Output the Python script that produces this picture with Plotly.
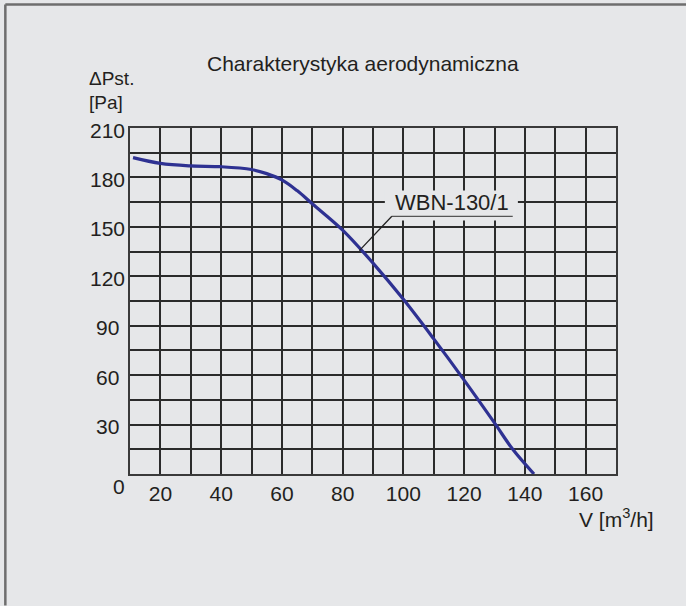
import plotly.graph_objects as go

# data
flow = [11, 20, 30, 40, 50, 55, 60, 65, 70, 80, 90, 100, 110, 120, 130, 136, 143]
pressure = [192, 188.5, 187, 186.5, 184.8, 182.3, 178.5, 172, 164, 148, 128, 106, 82, 57, 31, 15, 0]
x_ticks = [20, 40, 60, 80, 100, 120, 140, 160]
x_minor = [10, 30, 50, 70, 90, 110, 130, 150, 170]
y_ticks = [30, 60, 90, 120, 150, 180, 210]
series_name = "WBN-130/1"

BG = "#E6E7E9"
GRID = "#2b2b2b"
TXT = "#231F20"
FONT = "Liberation Sans, Arial, sans-serif"

fig = go.Figure()
fig.add_trace(go.Scatter(
    x=flow, y=pressure, mode="lines",
    line=dict(color="#2E3192", width=3.2, shape="spline", smoothing=1.0),
    showlegend=False, hoverinfo="skip"))

fig.update_layout(
    width=686, height=606,
    margin=dict(l=130, r=70, t=128, b=132),
    paper_bgcolor=BG, plot_bgcolor=BG,
    font=dict(family=FONT, size=21, color=TXT),
    xaxis=dict(range=[10, 170], tickvals=x_ticks, showgrid=True,
               gridcolor=GRID, gridwidth=1.7,
               minor=dict(tickvals=x_minor, showgrid=True, gridcolor=GRID, gridwidth=1.7),
               showline=True, linecolor="#3a3a3a", linewidth=2, mirror=True,
               ticks="", zeroline=False, tickfont=dict(size=21, color=TXT)),
    yaxis=dict(range=[0, 210], dtick=15, tick0=0, showgrid=True,
               gridcolor=GRID, gridwidth=1.7, showticklabels=False,
               showline=True, linecolor="#3a3a3a", linewidth=2, mirror=True,
               ticks="", zeroline=False),
)

# y tick labels (centered)
for v in y_ticks:
    fig.add_annotation(x=0, xref="x domain", xshift=-22.5, xanchor="center",
                       y=v, yref="y", yshift=-2, yanchor="middle",
                       text=str(v), showarrow=False, font=dict(size=21, color=TXT))
# origin label
fig.add_annotation(x=0, xref="x domain", xshift=-11, xanchor="center",
                   y=0, yref="y", yshift=-12, yanchor="middle",
                   text="0", showarrow=False, font=dict(size=21, color=TXT))

# title
fig.add_annotation(x=0.479, xref="paper", y=1.186, yref="paper",
                   xanchor="center", yanchor="middle",
                   text="Charakterystyka aerodynamiczna", showarrow=False,
                   font=dict(size=21, color=TXT))
# y axis title
fig.add_annotation(x=0, xref="x domain", xshift=-43, xanchor="left",
                   y=1, yref="y domain", yshift=50, yanchor="middle",
                   text="ΔPst.", showarrow=False, font=dict(size=19, color=TXT))
fig.add_annotation(x=0, xref="x domain", xshift=-43, xanchor="left",
                   y=1, yref="y domain", yshift=26, yanchor="middle",
                   text="[Pa]", showarrow=False, font=dict(size=19, color=TXT))
# x axis title
fig.add_annotation(x=1, xref="x domain", xshift=-39, xanchor="left",
                   y=0, yref="y domain", yshift=-44, yanchor="middle",
                   text="V [m<sup>3</sup>/h]", showarrow=False, font=dict(size=21, color=TXT))

# series label with background box, underline and leader
fig.add_shape(type="rect", x0=93.9, x1=137.7, y0=153.9, y1=172.1,
              fillcolor=BG, line=dict(width=0), layer="above")
fig.add_shape(type="line", x0=96.2, x1=136, y0=156.4, y1=156.4,
              line=dict(color="#555555", width=1.3), layer="above")
fig.add_shape(type="line", x0=96.2, x1=85.5, y0=156.4, y1=135.6,
              line=dict(color="#222222", width=1.3), layer="above")
fig.add_annotation(x=116.1, xref="x", y=164.8, yref="y",
                   xanchor="center", yanchor="middle", text=series_name,
                   showarrow=False, font=dict(size=22, color=TXT))

# outer frame (left and top edges)
fig.add_shape(type="line", xref="paper", yref="paper",
              x0=-0.2565, x1=-0.2565, y0=-0.38, y1=1.357,
              line=dict(color="#6e6e6e", width=2.5))
fig.add_shape(type="line", xref="paper", yref="paper",
              x0=-0.2565, x1=1.2, y0=1.357, y1=1.357,
              line=dict(color="#6e6e6e", width=2.5))

fig.write_html("out.html", config={"displayModeBar": False},
               post_script="document.body.style.margin='0px';document.body.style.background='%s';" % BG)
